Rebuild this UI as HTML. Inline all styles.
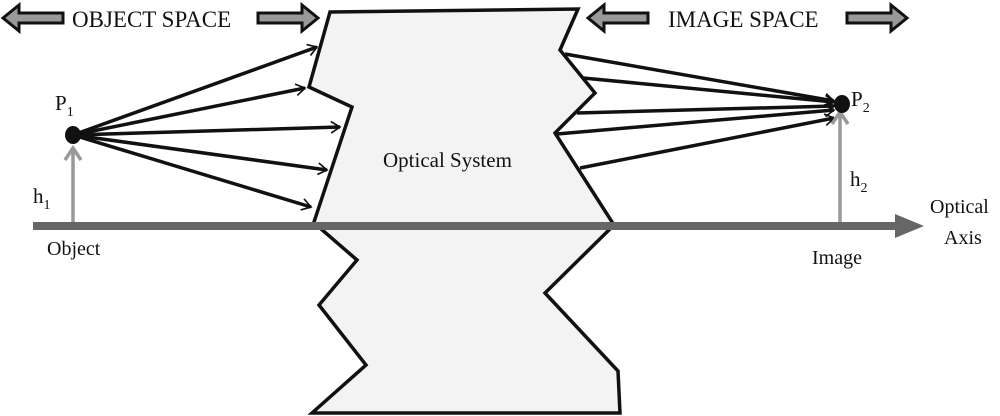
<!DOCTYPE html>
<html><head><meta charset="utf-8"><style>
html,body{margin:0;padding:0;background:#fff;}
svg{display:block;}
text{font-family:"Liberation Serif",serif;fill:#111;}
</style></head><body>
<svg width="1000" height="416" viewBox="0 0 1000 416" xmlns="http://www.w3.org/2000/svg">
<defs>
<marker id="ah" viewBox="0 0 14 14" refX="12" refY="7" markerWidth="9" markerHeight="9" markerUnits="userSpaceOnUse" orient="auto" overflow="visible">
<path d="M-2,-2 L12,7 L-2,16" fill="none" stroke="#111" stroke-width="2.6"/>
</marker>
<g id="harrow"><path d="M0,0 L16,-13 L16,-5 L60,-5 L60,5 L16,5 L16,13 Z" fill="#999" stroke="#111" stroke-width="3"/></g>
</defs>
<use href="#harrow" transform="translate(3,18)"/>
<use href="#harrow" transform="translate(318,18) scale(-1,1)"/>
<use href="#harrow" transform="translate(588,18)"/>
<use href="#harrow" transform="translate(907,18) scale(-1,1)"/>
<text x="72" y="27" font-size="23">OBJECT SPACE</text>
<text x="668" y="27" font-size="23">IMAGE SPACE</text>
<polygon points="330,12 578,9 560,50 595,93 555,133 614,225 545,293 618,371 620,413 312,413 366,365 319,305 357,260 320,228 313,225 352,107 309,87" fill="#f3f3f3" stroke="#111" stroke-width="3.5" stroke-linejoin="miter"/>
<text x="383" y="167" font-size="21">Optical System</text>
<line x1="33" y1="226" x2="902" y2="226" stroke="#666" stroke-width="8"/>
<polygon points="895,214 924,226 895,238" fill="#666"/>
<g stroke="#111" stroke-width="3.5" fill="none">
<line x1="73" y1="135" x2="317" y2="47" marker-end="url(#ah)"/>
<line x1="73" y1="135" x2="305" y2="88" marker-end="url(#ah)"/>
<line x1="73" y1="135" x2="340" y2="127" marker-end="url(#ah)"/>
<line x1="73" y1="135" x2="327" y2="170" marker-end="url(#ah)"/>
<line x1="73" y1="135" x2="311" y2="207" marker-end="url(#ah)"/>
<line x1="565" y1="54" x2="834" y2="101" marker-end="url(#ah)"/>
<line x1="583" y1="78" x2="834" y2="102" marker-end="url(#ah)"/>
<line x1="577" y1="113" x2="834" y2="106" marker-end="url(#ah)"/>
<line x1="557" y1="134" x2="834" y2="110" marker-end="url(#ah)"/>
<line x1="580" y1="168" x2="834" y2="118" marker-end="url(#ah)"/>
</g>
<g stroke="#999" stroke-width="3.5" fill="none">
<line x1="73" y1="222" x2="73" y2="148"/>
<path d="M65,160 L73,148 L81,160"/>
<line x1="840" y1="222" x2="840" y2="112"/>
<path d="M832,124 L840,112 L848,124"/>
</g>
<ellipse cx="73" cy="135" rx="8" ry="9" fill="#111"/>
<ellipse cx="842" cy="104" rx="8" ry="9" fill="#111"/>
<text x="55" y="110" font-size="21">P<tspan font-size="14" dy="6">1</tspan></text>
<text x="851" y="106" font-size="21">P<tspan font-size="14" dy="6">2</tspan></text>
<text x="33" y="203" font-size="21">h<tspan font-size="14" dy="6">1</tspan></text>
<text x="850" y="186" font-size="21">h<tspan font-size="14" dy="6">2</tspan></text>
<text x="47" y="255" font-size="20">Object</text>
<text x="812" y="264" font-size="20">Image</text>
<text x="930" y="213" font-size="20">Optical</text>
<text x="944" y="244" font-size="20">Axis</text>
</svg>
</body></html>
